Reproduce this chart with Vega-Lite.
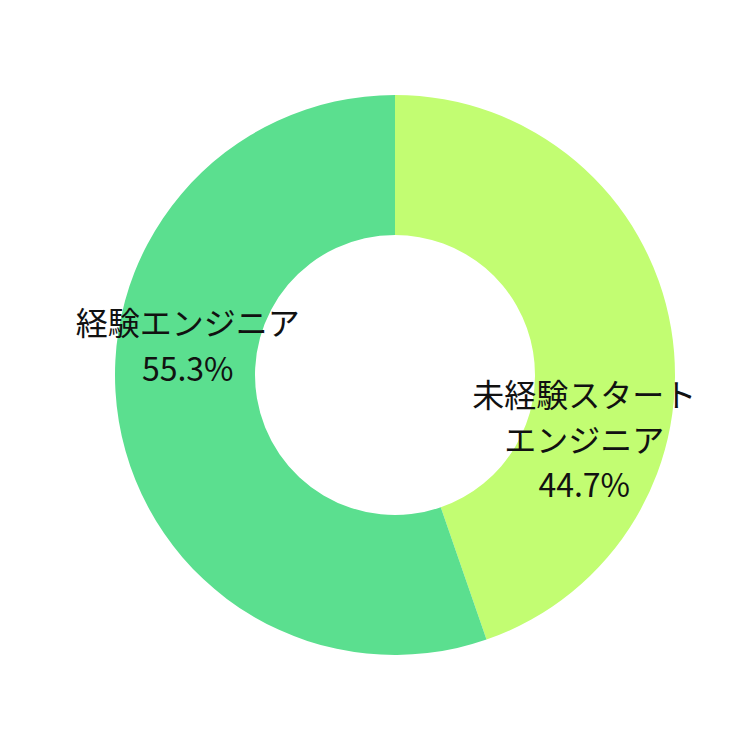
{
  "$schema": "https://vega.github.io/schema/vega-lite/v6.json",
  "autosize": {"type": "fit", "contains": "padding"},
  "width": 750,
  "height": 750,
  "padding": {"left": 40, "right": 0, "top": 0, "bottom": 0},
  "background": "white",
  "view": {"stroke": null},
  "data": {
    "values": [
      {"name": "未経験スタートエンジニア", "label": "未経験スタート\nエンジニア\n44.7%", "value": 44.7, "order": 1},
      {"name": "経験エンジニア", "label": "経験エンジニア\n55.3%", "value": 55.3, "order": 2}
    ]
  },
  "encoding": {
    "theta": {"field": "value", "type": "quantitative", "stack": true},
    "order": {"field": "order", "type": "quantitative"}
  },
  "layer": [
    {
      "mark": {"type": "arc", "outerRadius": 280, "innerRadius": 140},
      "encoding": {
        "color": {
          "field": "name",
          "type": "nominal",
          "scale": {"domain": ["未経験スタートエンジニア", "経験エンジニア"], "range": ["#C2FD72", "#5BDF8F"]},
          "legend": null
        }
      }
    },
    {
      "mark": {"type": "text", "radius": 200, "dx": -10, "dy": -83, "font": "Noto Sans CJK JP", "fontSize": 32, "lineHeight": 46, "lineBreak": "\n", "align": "center", "baseline": "middle", "color": "#111111"},
      "encoding": {
        "text": {"condition": {"test": "datum.name === '経験エンジニア'", "field": "label"}, "value": ""}
      }
    },
    {
      "mark": {"type": "text", "radius": 200, "dx": -8, "dy": 55, "font": "Noto Sans CJK JP", "fontSize": 32, "lineHeight": 45, "lineBreak": "\n", "align": "center", "baseline": "middle", "color": "#111111"},
      "encoding": {
        "text": {"condition": {"test": "datum.name === '未経験スタートエンジニア'", "field": "label"}, "value": ""}
      }
    }
  ]
}
